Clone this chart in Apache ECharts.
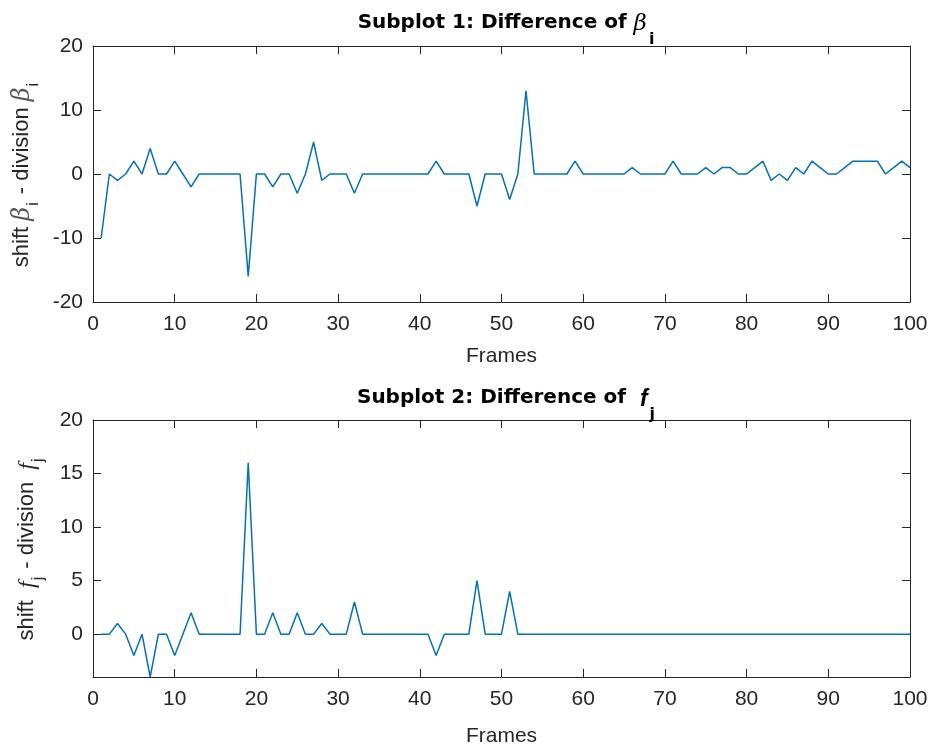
<!DOCTYPE html>
<html>
<head>
<meta charset="utf-8">
<script src="https://cdn.jsdelivr.net/npm/echarts@6/dist/echarts.min.js"></script>
<style>
  html, body { margin: 0; padding: 0; background: #fff; }
  #chart { width: 933px; height: 749px; }
</style>
</head>
<body>
<div id="chart"></div>
<script>
// Frame-by-frame differences (shift minus division), frames 1..100
const betaDiff = [
  -10, 0, -1, 0, 2, 0, 4, 0, 0, 2,
  0, -2, 0, 0, 0, 0, 0, 0, -16, 0,
  0, -2, 0, 0, -3, 0, 5, -1, 0, 0,
  0, -3, 0, 0, 0, 0, 0, 0, 0, 0,
  0, 2, 0, 0, 0, 0, -5, 0, 0, 0,
  -4, 0, 13, 0, 0, 0, 0, 0, 2, 0,
  0, 0, 0, 0, 0, 1, 0, 0, 0, 0,
  2, 0, 0, 0, 1, 0, 1, 1, 0, 0,
  1, 2, -1, 0, -1, 1, 0, 2, 1, 0,
  0, 1, 2, 2, 2, 2, 0, 1, 2, 1
];
const fDiff = [
  0, 0, 1, 0, -2, 0, -4, 0, 0, -2,
  0, 2, 0, 0, 0, 0, 0, 0, 16, 0,
  0, 2, 0, 0, 2, 0, 0, 1, 0, 0,
  0, 3, 0, 0, 0, 0, 0, 0, 0, 0,
  0, -2, 0, 0, 0, 0, 5, 0, 0, 0,
  4, 0, 0, 0, 0, 0, 0, 0, 0, 0,
  0, 0, 0, 0, 0, 0, 0, 0, 0, 0,
  0, 0, 0, 0, 0, 0, 0, 0, 0, 0,
  0, 0, 0, 0, 0, 0, 0, 0, 0, 0,
  0, 0, 0, 0, 0, 0, 0, 0, 0, 0
];
const xTicks = [0, 10, 20, 30, 40, 50, 60, 70, 80, 90, 100];
const yTicksTop = [-20, -10, 0, 10, 20];
const yTicksBottom = [0, 5, 10, 15, 20];

const axisColor = '#262626';
const lineColor = '#0072BD';
const font = 'Liberation Sans, Arial, Helvetica, sans-serif';

const toPoints = arr => arr.map((v, i) => [i + 1, v]);

const chart = echarts.init(document.getElementById('chart'), null, { renderer: 'canvas' });

function xAxes(gridIndex, nameGap) {
  const tick = { show: true, inside: true, length: 8, lineStyle: { color: axisColor }, customValues: xTicks };
  const line = { show: true, onZero: false, lineStyle: { color: axisColor, width: 1 } };
  return [
    {
      type: 'value', gridIndex, min: 0, max: 100, position: 'bottom',
      name: 'Frames', nameLocation: 'middle', nameGap,
      nameTextStyle: { color: axisColor, fontSize: 21, fontFamily: font },
      axisLine: line, axisTick: tick,
      axisLabel: { color: axisColor, fontSize: 21, fontFamily: font, margin: 12, customValues: xTicks },
      splitLine: { show: false }
    },
    {
      type: 'value', gridIndex, min: 0, max: 100, position: 'top',
      axisLine: line, axisTick: tick,
      axisLabel: { show: false },
      splitLine: { show: false }
    }
  ];
}

function yAxes(gridIndex, min, max, ticks, name, rich, nameGap) {
  const common = {
    type: 'value', gridIndex, min, max,
    axisTick: { show: true, inside: true, length: 8, lineStyle: { color: axisColor }, customValues: ticks },
    axisLine: { show: true, onZero: false, lineStyle: { color: axisColor, width: 1 } },
    splitLine: { show: false }
  };
  return [
    Object.assign({}, common, {
      position: 'left',
      name, nameLocation: 'middle', nameGap, nameRotate: 90,
      nameTextStyle: { color: axisColor, fontSize: 22, fontFamily: font, rich },
      axisLabel: { color: axisColor, fontSize: 21, fontFamily: font, margin: 10, customValues: ticks }
    }),
    Object.assign({}, common, {
      position: 'right',
      axisLabel: { show: false }
    })
  ];
}

const nameRich = {
  t: { fontSize: 22, fontFamily: font, color: axisColor, lineHeight: 25, verticalAlign: 'top' },
  g: { fontSize: 24, fontFamily: 'DejaVu Serif, serif', fontStyle: 'italic', color: '#555', lineHeight: 25, verticalAlign: 'top' },
  fi: { fontSize: 24, fontFamily: 'Liberation Serif, serif', fontStyle: 'italic', color: axisColor, lineHeight: 25, verticalAlign: 'top' },
  s: { fontSize: 16, fontFamily: font, color: axisColor, lineHeight: 16, padding: [15, 2, 0, 1], verticalAlign: 'top' }
};

const titleRich = {
  t: { fontSize: 20, fontWeight: 'bold', fontFamily: 'DejaVu Sans, sans-serif', color: '#000', lineHeight: 24, verticalAlign: 'top' },
  g: { fontSize: 23, fontWeight: 'normal', fontFamily: 'DejaVu Serif, serif', fontStyle: 'italic', color: '#000', lineHeight: 24, verticalAlign: 'top' },
  fi: { fontSize: 23, fontWeight: 'bold', fontFamily: font, fontStyle: 'italic', color: '#000', lineHeight: 24, verticalAlign: 'top' },
  s: { fontSize: 16, fontWeight: 'bold', fontFamily: 'DejaVu Sans, sans-serif', color: '#000', lineHeight: 16, padding: [19, 0, 0, 2], verticalAlign: 'top' }
};

const option = {
  animation: false,
  backgroundColor: '#ffffff',
  title: [
    {
      text: '{t|Subplot 1: Difference of }{g|β}{s|i}',
      left: 501, top: 8, textAlign: 'center',
      textStyle: { rich: titleRich }
    },
    {
      text: '{t|Subplot 2: Difference of  }{fi|f}{s|j}',
      left: 501, top: 383, textAlign: 'center',
      textStyle: { rich: titleRich }
    }
  ],
  grid: [
    { left: 93, top: 46, width: 817, height: 256, show: false },
    { left: 93, top: 420, width: 817, height: 257, show: false }
  ],
  xAxis: [...xAxes(0, 44), ...xAxes(1, 49)],
  yAxis: [
    ...yAxes(0, -20, 20, yTicksTop, '{t|shift }{g|β}{s|i}{t| - division }{g|β}{s|i}', nameRich, 57),
    ...yAxes(1, -4, 20, yTicksBottom, '{t|shift  }{fi|f}{s|j}{t| - division  }{fi|f}{s|j}', nameRich, 52)
  ],
  series: [
    {
      type: 'line', xAxisIndex: 0, yAxisIndex: 0, data: toPoints(betaDiff),
      showSymbol: false, lineStyle: { color: lineColor, width: 1.5 }, itemStyle: { color: lineColor }
    },
    {
      type: 'line', xAxisIndex: 2, yAxisIndex: 2, data: toPoints(fDiff),
      showSymbol: false, lineStyle: { color: lineColor, width: 1.5 }, itemStyle: { color: lineColor }
    }
  ]
};
chart.setOption(option);
</script>
</body>
</html>
